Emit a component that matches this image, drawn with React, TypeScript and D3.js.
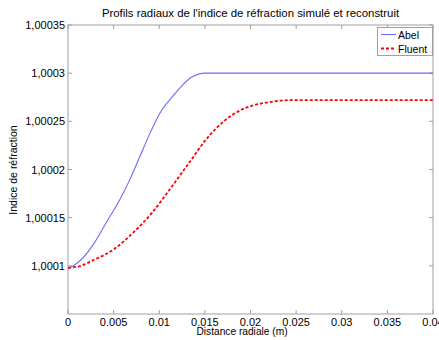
import React from "react";
import * as d3 from "d3";

const W = 439;
const H = 340;

const xTicks = [0, 0.005, 0.01, 0.015, 0.02, 0.025, 0.03, 0.035, 0.04];
const xTickLabels = ["0", "0.005", "0.01", "0.015", "0.02", "0.025", "0.03", "0.035", "0.04"];
const yTicks = [1.0001, 1.00015, 1.0002, 1.00025, 1.0003, 1.00035];
const yTickLabels = ["1,0001", "1,00015", "1,0002", "1,00025", "1,0003", "1,00035"];

const abelX = [0, 0.0013, 0.0028, 0.0042, 0.0057, 0.0068, 0.0079, 0.009, 0.0101, 0.0113, 0.0124, 0.0134, 0.0143, 0.015, 0.02, 0.03, 0.04];
const abelY = [1.000097, 1.000105, 1.0001225, 1.000145, 1.000169, 1.00019, 1.000214, 1.000238, 1.000259, 1.000274, 1.000286, 1.000295, 1.000299, 1.0003, 1.0003, 1.0003, 1.0003];

const fluentX = [0, 0.0014, 0.0028, 0.005, 0.0072, 0.0092, 0.0112, 0.0132, 0.0152, 0.0172, 0.019, 0.0205, 0.0221, 0.0243, 0.027, 0.03, 0.035, 0.04];
const fluentY = [1.000098, 1.0001, 1.000106, 1.000117, 1.000135, 1.000155, 1.00018, 1.000206, 1.000232, 1.000251, 1.000262, 1.000267, 1.00027, 1.000272, 1.000272, 1.000272, 1.000272, 1.000272];

const FONT = "Arial, 'Liberation Sans', sans-serif";

export default function App() {
  const left = 68, right = 433, top = 25, bottom = 314;
  const x = d3.scaleLinear().domain([0, 0.04]).range([left, right]);
  const y = d3.scaleLinear().domain([1.00005, 1.00035]).range([bottom, top]);
  const line = d3
    .line<[number, number]>()
    .x((d) => x(d[0]))
    .y((d) => y(d[1]))
    .curve(d3.curveMonotoneX);
  const abel = line(abelX.map((v, i) => [v, abelY[i]]) as [number, number][]) || "";
  const fluent = line(fluentX.map((v, i) => [v, fluentY[i]]) as [number, number][]) || "";
  const axisColor = "#a0a0a0";
  const tl = 4;

  return (
    <svg
      width={W}
      height={H}
      style={{ position: "fixed", left: 0, top: 0, background: "#fff" }}
      fontFamily={FONT}
    >
      <rect x={0} y={0} width={W} height={H} fill="#fff" />
      <text x={250.5} y={17} textAnchor="middle" fontSize={11.4} fill="#000">
        Profils radiaux de l'indice de réfraction simulé et reconstruit
      </text>
      <g>
        {xTicks.map((t, i) => (
          <g key={"x" + i}>
            <line x1={x(t)} x2={x(t)} y1={bottom} y2={bottom - tl} stroke={axisColor} />
            <line x1={x(t)} x2={x(t)} y1={top} y2={top + tl} stroke={axisColor} />
            <text x={x(t)} y={325.5} textAnchor="middle" fontSize={11} fill="#000">
              {xTickLabels[i]}
            </text>
          </g>
        ))}
        {yTicks.map((t, i) => (
          <g key={"y" + i}>
            <line x1={left} x2={left + tl} y1={y(t)} y2={y(t)} stroke={axisColor} />
            <line x1={right} x2={right - tl} y1={y(t)} y2={y(t)} stroke={axisColor} />
            <text x={65} y={y(t) + 4} textAnchor="end" fontSize={11} fill="#000">
              {yTickLabels[i]}
            </text>
          </g>
        ))}
      </g>
      <rect x={left} y={top} width={right - left} height={bottom - top} fill="none" stroke={axisColor} />
      <path d={abel} fill="none" stroke="#6b6bff" strokeWidth={1.1} />
      <path d={fluent} fill="none" stroke="#ff0000" strokeWidth={1.8} strokeDasharray="3,2" />
      <g>
        <rect x={377.5} y={27.5} width={55} height={28} fill="#fff" stroke={axisColor} />
        <line x1={381} x2={396} y1={34.5} y2={34.5} stroke="#6b6bff" strokeWidth={1.1} />
        <text x={398} y={38.5} fontSize={10.5} fill="#000">Abel</text>
        <line x1={381} x2={396} y1={48.5} y2={48.5} stroke="#ff0000" strokeWidth={1.8} strokeDasharray="3,2" />
        <text x={398} y={52.5} fontSize={10.5} fill="#000">Fluent</text>
      </g>
      <text x={242} y={335} textAnchor="middle" fontSize={10.2} fill="#000">
        Distance radiale (m)
      </text>
      <text
        transform={`translate(17, 170) rotate(-90)`}
        textAnchor="middle"
        fontSize={10.5}
        fill="#000"
      >
        Indice de réfraction
      </text>
    </svg>
  );
}
